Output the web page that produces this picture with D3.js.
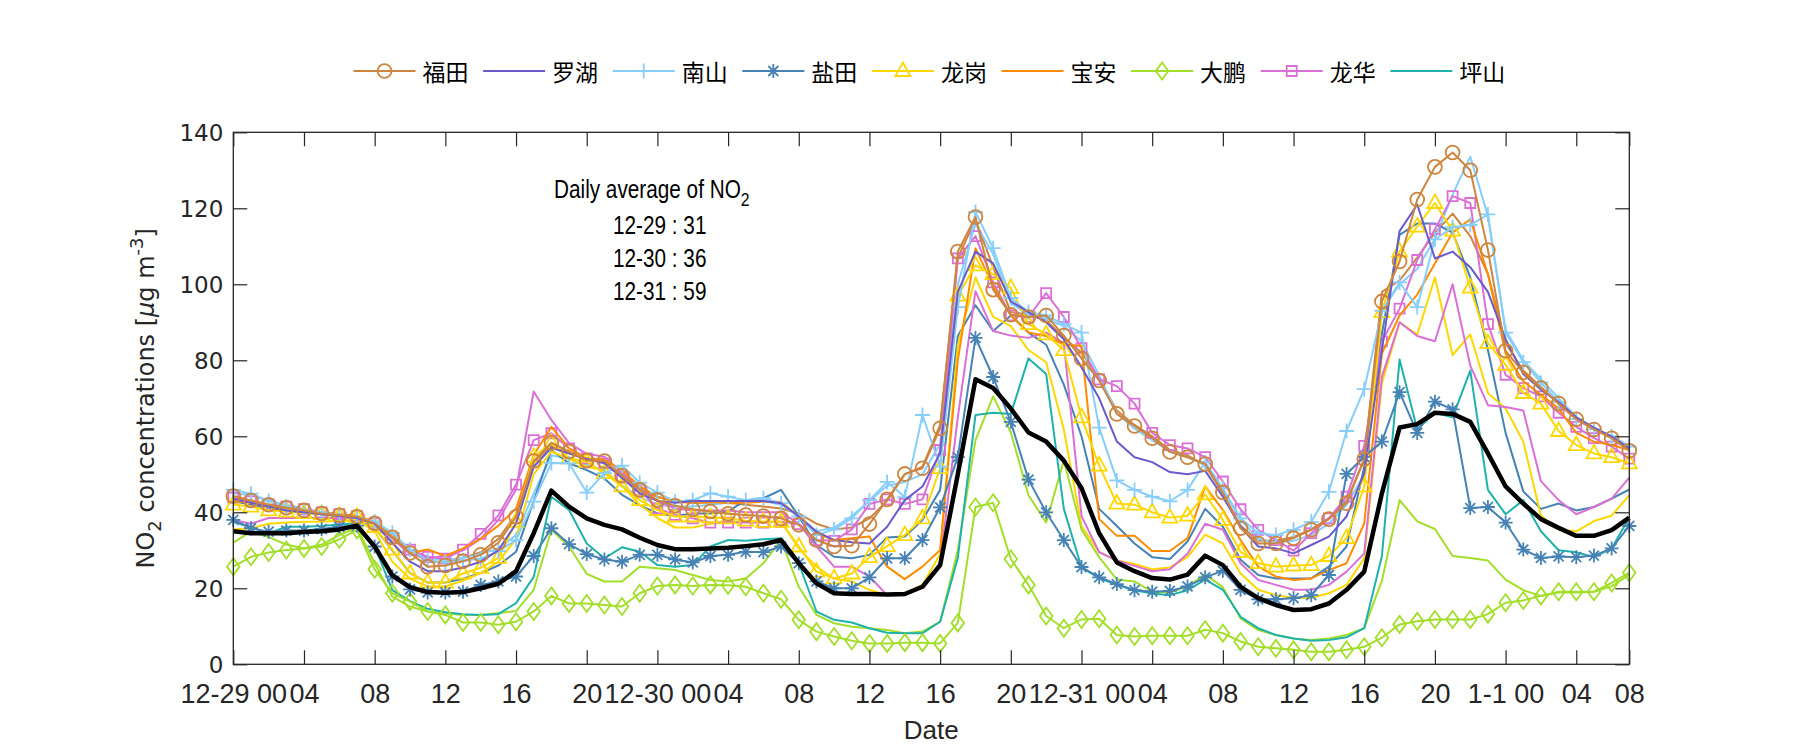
<!DOCTYPE html>
<html><head><meta charset="utf-8">
<script src="https://cdn.jsdelivr.net/npm/d3@7"></script>
<style>body{margin:0;background:#fff;} svg{display:block}</style>
</head><body>
<svg id="chart" width="1800" height="750"></svg>
<script>
// ---------------- data (hourly, 12-29 00:00 ... 1-1 07:00) ----------------
const hours = d3.range(80);
const tickHours = [0,4,8,12,16,20,24,28,32,36,40,44,48,52,56,60,64,68,72,76,79];
const tickLabels = ["12-29 00","04","08","12","16","20","12-30 00","04","08","12","16","20",
                    "12-31 00","04","08","12","16","20","1-1 00","04","08"];
const yTicks = [0,20,40,60,80,100,120,140];
const stations = ["福田","罗湖","南山","盐田","龙岗","宝安","大鹏","龙华","坪山"];
const dailyAvg = [["12-29",31],["12-30",36],["12-31",59]];

const futian = [44.3,43.1,42,41.2,40.5,39.7,39.2,38.8,
 37.1,33.4,29.3,25.7,26,27.1,28.8,32,38.8,
 53.5,58.3,56,53.6,53.5,49.6,45.9,43.2,41.7,40.8,40.2,39.6,
 39.3,39,38.4,36.7,32.7,31,31.2,36.9,43.4,50.1,51.6,62.1,
 108.6,117.7,98.6,92,91.4,91.8,86.5,80.5,74.7,65.9,62.7,59.5,55.9,54.5,52.7,
 45.2,35.8,31.8,31.8,33.2,35.4,38.2,42.4,54,
 95.5,106,122.3,130.9,134.7,130,109,82.5,76.8,72.7,68.6,64.5,61.8,59.5,56.2];
const luohu = [43.5,42.5,41.5,40.5,40,39.5,39,38.5,
 37,32,27,24.5,24.5,25.5,27,30,37,
 52,57,55.5,54,53,49,45,43,42.5,43,43,43,
 43,43,42.4,38.9,34.9,32.7,32.1,31.8,36.2,43.2,46.8,55.5,
 98,108.6,105.5,95.5,92.7,90,85.5,78.2,70,58.6,54.5,53.2,50.6,50,50.9,
 44.1,36.2,31,30.5,29.2,31.4,33.6,38.9,50.3,
 82.7,114,121,106.8,108.6,104.5,98,85.5,76.4,72.3,69,65,62.3,60,56.8];
const nanshan = [45.9,44.9,43,41.5,40.5,40,39.2,38.5,
 37.6,34.6,30.2,27.3,26.8,27.3,27.8,29.8,32.7,
 42.8,53,52.9,45.2,50.3,52.3,47.8,45.2,42.8,43.2,45,44.1,
 43.2,43.7,42.4,38.9,34,35.5,38.4,43.2,48,44,65.6,52,
 94,119,109.5,96.4,92.7,91.8,89.5,87.3,62.3,48.4,45.9,44.1,42.9,45.9,53.2,
 46.3,38.4,34.5,34,35.4,37.5,45.4,61.4,72.4,
 93,100.5,94,111.8,115,115.6,118.4,87.3,79.5,74.1,69,64.5,61.8,60,57.3];
const yantian = [38,35.8,34.9,35.2,35.2,35.6,36.2,36.5,
 31,23.1,19.7,18.9,18.9,19.1,20.9,21.8,23.1,
 28.5,35.8,31.6,29,27.6,27,28.8,28.8,27.6,26.8,28.5,28.8,
 29.6,29.5,31,26.6,21.8,20,20,22.9,27.9,27.9,32.7,41.3,
 54.5,85.9,75.6,63.8,48.6,40,32.7,25.6,22.9,21.1,19.5,19.1,19.3,20.5,22.9,
 24.6,19.6,17.1,17.1,17.4,18.2,23.5,50.1,54.6,
 58.6,71.6,60.9,69.1,67.1,41.1,41.4,37.3,30.2,28,28.4,28.2,28.6,30.5,36.4];
const longgang = [42,41.5,40.5,40.2,39.8,39.5,39,38.8,
 36.1,30.2,23.9,21.5,21.5,23.9,25.4,28,37.5,
 54.6,58.2,54.2,53.3,50.3,46.8,43.2,40.6,38.9,38.9,38.7,38.4,
 37.8,37.5,37.5,31,24.4,22.6,23.9,28.2,31.1,34,38.4,51.6,
 97,105,102.7,99,89.5,86.8,82.7,65,52.3,42.3,42,40,38.6,39.1,44.7,
 38,29.6,26.6,25.7,26,26.1,28.5,33.2,46.8,
 92.7,108.6,115.2,121.4,114.1,99.1,84.5,78.8,71.4,68.6,61.4,57.7,55.5,54.5,52.9];
const baoan = [43,42.5,41.5,41,40.5,40,39.5,39,
 37.5,34,29.3,30.2,28.5,30.5,33,36.5,41,
 55,62.5,56.8,54.2,53.8,51.1,46.8,44.1,42.8,42.5,42.8,42.4,
 42.5,42.8,42.8,38.9,34.5,32.7,33.2,33.6,25.7,22.4,25.7,30.1,
 80,109.5,99.5,91.8,87.3,86.4,84.1,83.8,38.2,33.8,33.8,29.8,29.8,33.2,46.8,
 40.6,32.7,25.7,23.1,22.2,22.6,24.8,26.6,37.1,
 81.8,91.8,97.3,105.5,113.6,117.1,102.7,81.8,74.5,70.9,67.3,60.9,58.6,57.7,56.4];
const dapeng = [25.7,28.3,29.4,30.1,30.5,31,32.9,35.4,
 25,18.7,16.5,13.9,13,11,11,10.4,11.2,
 13.9,18,16,16,15.6,15.2,18.7,20.6,20.9,20.6,20.9,20.8,
 20.4,18.7,17.1,11.7,8.6,7.3,6.2,5.5,5.5,5.7,5.7,5.5,
 10.9,41.4,42.5,27.7,20.9,12.7,9.5,11.8,12,7.7,7.3,7.5,7.5,7.5,9.1,
 8.2,6,4.6,4.2,3.8,3.3,3.3,3.8,4.6,
 7,10.5,11.3,11.8,11.8,11.8,13.2,16.2,16.8,18,19.1,19.1,19.1,21.4,24.1];
const longhua = [43.9,42.9,42.1,41.5,40.8,40,39.5,39,
 37.1,33.2,30.2,28.3,27.8,30.2,34.3,39.2,47.3,
 59,60.8,56.8,54.2,52.9,49.4,45.9,41,39.3,38.4,37.3,37.3,
 37.3,37.3,37.5,36.9,32.7,32.5,35.5,42.2,43.4,42.2,43.4,56.4,
 106.8,112.7,100.5,91.8,91.4,97.7,91.4,83.2,75,73.2,68.6,60.9,57.7,56.8,54.5,
 48.1,40.8,35.4,32.7,29.9,34.5,38.4,44.1,57.5,
 85,93.6,106.4,114.5,123.2,121.4,89.5,76.2,72.7,70.5,66.2,62.5,59.5,57.3,54.1];
const pingshan = [37.5,36,34.5,36.2,36.2,36.4,36.8,37.1,
 31,19.5,16.6,14.6,13.7,13.2,13,13.2,16.1,
 23,44.1,40.6,31.8,27.9,30.8,29.6,26.1,25.7,26.1,31,32.7,
 32.5,32.9,33.2,26.6,13.9,11.7,11,9.5,8.3,8.2,8.2,11.2,
 28,65.6,66.2,65.9,80.5,76.4,40.9,25.5,22.7,20.9,19.5,18.6,18.2,19.5,22.3,
 19.6,12.5,9.5,7.7,6.8,6.2,6.4,7.1,9.5,
 28.5,80.2,61.8,66.2,65,77.3,45.9,39.5,43.2,35,30,29.5,28.2,30.5,38.6];
// second (unlabelled) set of curves, same colours
const futian2 = [44,43,42,41,40.5,40,39.5,39,
 37.5,34,30,27,27,28,29.5,33,39.5,
 53,57.5,55.5,54,53,50,46.5,44,43,42.5,42.5,42.5,
 42,41.5,41,39.7,37,35.5,36,38.4,43,50,52,63,
 107,117,104.5,92.7,92,90.5,86,82,75,66.8,63,60,56.4,55,52.3,
 45,36.5,32.5,32.5,33.5,35.5,38.5,43,54,
 98,101,107,113.6,118.6,112.7,102.7,84.5,77.3,73,68.5,64.5,62,59.5,56.5];
const nanshan2 = [45,44.5,43,42,41,40,39.5,39,
 37,34,30,28,27.5,28,29,30.5,34,
 45,55,54,52.5,51,47,44,42,41.5,41.5,42,42.5,
 43,43,42,39,35,36,39,43,47,48,50,58,
 100,116,108,95,92,91,89,85,76,66,62,59,56,54.5,52.5,
 46,38,33,32,32.5,34,37,42,50,
 93,100,104,112,123.6,133.6,118,88,80,75,70,65,62,60,57.5];
const yantian2 = [43,42,41,40.5,40,39.5,39,38.5,
 36,30,24,21.5,21.5,22.5,24,26,29.6,
 43,56.4,52.9,51.1,48.9,44.6,41.9,39.7,39,39.7,39.7,40.2,
 43.2,43.7,45.9,38.9,31.4,28.3,27.9,28.8,33.4,33.6,38,45.9,
 86.4,94.5,87.7,91.8,87.3,84.1,73.6,60,40.9,36.4,31.8,28.2,27.7,32.3,40.9,
 36.2,27.5,23.5,22.6,22.6,22.6,25.7,31,52,
 87,113,116,116,113.6,101.8,82.7,60.9,45.5,40.9,42.3,40.5,41.4,43.6,46];
const longgang2 = [35.5,35.8,37,37.3,37.5,37.5,37.8,38,
 35,27,22.5,20.5,20.5,22,24,27,33,
 50,56,54,52,51,47,42,38.5,36,36,37,37.5,
 37.5,37.5,37.5,30.5,25.7,22.5,21.8,19.6,18.2,18.7,20.9,29,
 84,101.8,91.4,89,82.7,79.5,61.8,36.4,29.5,27.3,26.4,25,25.5,28.2,34.1,
 31.8,23.9,19.6,18.2,17.5,17.5,18.7,20.9,27.9,
 74,90,86.8,101.8,81.4,86.8,71.4,67.3,58.6,39.1,35.5,35,37.7,39.1,44.5];
const dapeng2 = [32,35,33.5,31.5,30.5,31.5,34,36,
 26.6,17.8,15.2,13.9,13.4,13,13,13.5,14,
 19.6,35.4,31,23.8,21.8,21.8,25.7,25.3,24.8,23.5,22.2,21.8,
 22.6,26.6,32.7,20.4,13,10.8,9.9,9.5,9,8.2,8.6,11.2,
 30,59,70.5,61,44.5,37.3,53.6,35.5,28.2,22.3,21.8,19.1,18.9,20.5,23.6,
 20.3,12.1,9,7.7,6.8,6.4,6.8,7.7,9.5,
 22,43.2,37.6,35.6,28.5,28,27.3,22.3,19.5,18,18.9,18.9,19.1,20.5,23.6];
const longhua2 = [38,37,38.5,38.5,38.5,38.5,38.5,38.5,
 37.5,33,29,28,28.5,30,33,38,46,
 71.8,64.3,58.2,55.4,54.6,50.3,47,43,41,40.5,40.5,40.5,
 40,40,40,37,31,25.7,25.7,23.1,18.2,18.2,20.4,26.6,
 65,98.2,87.7,86.5,85.9,87.3,84.5,39,29.5,27.3,25.9,24.5,25,29.1,37,
 35.4,26.6,22.2,20.9,19.6,19.6,20.9,24.4,29.2,
 75.7,90,86.4,85,100,78.6,68.2,67.7,66.8,48.2,43.2,39.5,41.4,43.6,49.1];
const meanNO2 = [35,34.5,34.5,34.5,34.8,35,35.5,36.5,
 31,23.4,20.3,19,18.8,19,20,21.2,24.5,
 34.5,45.7,41.5,38.4,36.7,35.5,33.3,31.4,30.3,30.3,30.5,30.7,
 31.1,31.6,32.7,26.6,21.3,18.7,18.5,18.5,18.4,18.5,20.4,26.1,
 50,75,72.7,67.3,61,58.6,53.6,46.4,34.5,26.8,24.5,22.7,22.3,23.6,28.6,
 26.1,20.4,17.4,15.6,14.3,14.5,16,19.6,24.4,
 45,62.3,63.2,66.2,65.9,63.8,55.5,46.8,42.3,38.2,35.9,33.8,33.8,35.3,38.6];

const colors = ["#CD853F","#6A5ACD","#87CEFA","#4682B4","#FFD700","#FF8C00","#A3DE2A","#DA70D6","#20B2AA"];
const markers = ["circle",null,"plus","star","triangle",null,"diamond","square",null];
const mainData = [futian,luohu,nanshan,yantian,longgang,baoan,dapeng,longhua,pingshan];
const extraData = [[futian2,0],[nanshan2,2],[yantian2,3],[longgang2,4],[dapeng2,6],[longhua2,7]];

// ---------------- drawing ----------------
const svg = d3.select("#chart");
const L = 233.3, R = 1629.3, T = 132.3, B = 664.3;
const x = d3.scaleLinear().domain([0,79]).range([L,R]);
const y = d3.scaleLinear().domain([0,140]).range([B,T]);
const axisColor = "#262626";
const sans = "'Liberation Sans',Arial,sans-serif";

const line = d3.line().x((d,i)=>x(hours[i])).y(d=>y(d));

function markerPath(type){
  switch(type){
    case "circle": return d3.symbol(d3.symbolCircle, 150)();
    case "triangle": return "M0,-8.5L7.5,5L-7.5,5Z";
    case "diamond": return "M0,-8.5L6.3,0L0,8.5L-6.3,0Z";
    case "square": return "M-5,-5H5V5H-5Z";
    case "plus": return "M-7.5,0H7.5M0,-7.5V7.5";
    case "star": return "M-7,0H7M0,-7V7M-5,-5L5,5M-5,5L5,-5";
  }
  return "";
}

const lines = svg.append("g");
extraData.forEach(([d,ci])=>{
  lines.append("path").attr("d",line(d)).attr("fill","none")
    .attr("stroke",colors[ci]).attr("stroke-width",2).attr("stroke-linejoin","round");
});
for(let k=mainData.length-1;k>=0;k--){
  const g = lines.append("g");
  g.append("path").attr("d",line(mainData[k])).attr("fill","none")
    .attr("stroke",colors[k]).attr("stroke-width",2).attr("stroke-linejoin","round");
  if(markers[k]){
    g.selectAll("path.m").data(mainData[k]).enter().append("path").attr("class","m")
      .attr("d",markerPath(markers[k]))
      .attr("transform",(d,i)=>`translate(${x(hours[i])},${y(d)})`)
      .attr("fill","none").attr("stroke",colors[k]).attr("stroke-width",1.8);
  }
}
lines.append("path").attr("d",line(meanNO2)).attr("fill","none")
  .attr("stroke","#000").attr("stroke-width",4.5).attr("stroke-linejoin","round");

// axes
const xAxis = d3.axisBottom(x).tickValues(tickHours).tickFormat((d,i)=>tickLabels[i])
  .tickSizeInner(-14).tickSizeOuter(0).tickPadding(0);
const gx = svg.append("g").attr("transform",`translate(0,${B})`).call(xAxis);
gx.selectAll("text").attr("y",20).attr("dy","0.71em")
  .style("font-family",sans).style("font-size","27px").attr("fill",axisColor);
const gxt = svg.append("g").attr("transform",`translate(0,${T})`)
  .call(d3.axisTop(x).tickValues(tickHours).tickFormat("").tickSizeInner(-14).tickSizeOuter(0));
const gy = svg.append("g").attr("transform",`translate(${L},0)`)
  .call(d3.axisLeft(y).tickValues(yTicks).tickSizeInner(-14).tickSizeOuter(0).tickPadding(0));
gy.selectAll("text").attr("x",-10).attr("dy","0.36em")
  .style("font-family","'DejaVu Sans',sans-serif").style("font-size","23px").attr("fill",axisColor);
const gyr = svg.append("g").attr("transform",`translate(${R},0)`)
  .call(d3.axisRight(y).tickValues(yTicks).tickFormat("").tickSizeInner(-14).tickSizeOuter(0));
[gx,gxt,gy,gyr].forEach(g=>{
  g.select(".domain").remove();
  g.selectAll(".tick line").attr("stroke",axisColor).attr("stroke-width",1.2);
});
svg.append("rect").attr("x",L).attr("y",T).attr("width",R-L).attr("height",B-T)
  .attr("fill","none").attr("stroke",axisColor).attr("stroke-width",1.3);

// axis labels
svg.append("text").attr("x",(L+R)/2).attr("y",730).attr("text-anchor","middle")
  .attr("dominant-baseline","central")
  .style("font-family",sans).style("font-size","26px")
  .attr("fill",axisColor).text("Date");
const yl = svg.append("text").attr("transform",`translate(146,${(T+B)/2}) rotate(-90)`)
  .attr("text-anchor","middle").attr("dominant-baseline","central")
  .style("font-family","'DejaVu Sans',sans-serif").style("font-size","24px").attr("fill",axisColor);
yl.append("tspan").text("NO");
yl.append("tspan").attr("dy",8).style("font-size","18px").text("2");
yl.append("tspan").attr("dy",-8).text(" concentrations [");
yl.append("tspan").style("font-style","italic").text("μ");
yl.append("tspan").text("g m");
yl.append("tspan").attr("dy",-10).style("font-size","18px").text("-3");
yl.append("tspan").attr("dy",10).text("]");

// annotation (slightly condensed, as in the original)
const ann = svg.append("g").style("font-family",sans).style("font-size","25px").attr("fill","#000");
const t0 = ann.append("text").attr("transform","translate(554,198) scale(0.83,1)");
t0.append("tspan").text("Daily average of NO");
t0.append("tspan").attr("dy",8).style("font-size","19px").text("2");
dailyAvg.forEach((d,i)=>{
  ann.append("text").attr("transform",`translate(613,${234+i*33}) scale(0.83,1)`).text(`${d[0]} : ${d[1]}`);
});

// legend
const lg = svg.append("g");
stations.forEach((s,k)=>{
  const x0 = 353.5 + k*129.6, yc = 71;
  lg.append("line").attr("x1",x0).attr("x2",x0+62).attr("y1",yc).attr("y2",yc)
    .attr("stroke",colors[k]).attr("stroke-width",2);
  if(markers[k]) lg.append("path").attr("d",markerPath(markers[k]))
    .attr("transform",`translate(${x0+31},${yc})`).attr("fill","none")
    .attr("stroke",colors[k]).attr("stroke-width",1.8);
  lg.append("text").attr("x",x0+69).attr("y",yc).attr("dominant-baseline","central")
    .style("font-family","'Noto Sans CJK SC',sans-serif").style("font-size","23px")
    .attr("fill","#000").text(s);
});
</script>
</body></html>
